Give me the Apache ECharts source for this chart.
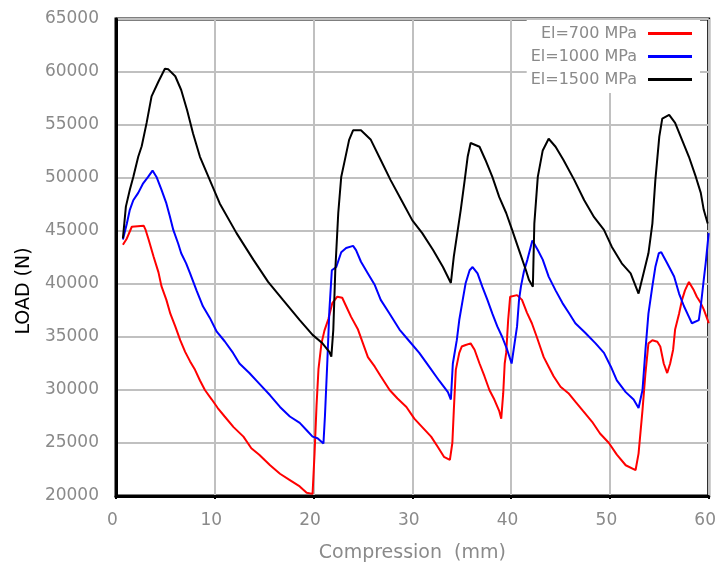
<!DOCTYPE html>
<html>
<head>
<meta charset="utf-8">
<title>LOAD vs Compression</title>
<script src="https://cdn.jsdelivr.net/npm/echarts@6/dist/echarts.min.js"></script>
<style>
  html, body { margin: 0; padding: 0; background: #fff; }
  #chart { width: 719px; height: 570px; }
</style>
</head>
<body>
<div id="chart"></div>
<script>
// Axis ticks
const xTicks = [0, 10, 20, 30, 40, 50, 60];
const yTicks = [20000, 25000, 30000, 35000, 40000, 45000, 50000, 55000, 60000, 65000];

// Series names
const seriesNames = ['El=700 MPa', 'El=1000 MPa', 'El=1500 MPa'];

// El = 700 MPa
const compression700 = [0.7, 1.1, 1.6, 2.2, 2.8, 3.0, 3.3, 3.8, 4.3, 4.6, 5.1, 5.5, 6.0, 6.5, 7.0, 7.5, 8.0, 8.5, 9.0, 9.7,
  10.3, 11.0, 11.9, 12.9, 13.7, 14.5, 15.6, 16.6, 17.6, 18.6, 19.3, 19.9, 20.1, 20.3, 20.5, 20.8, 21.1, 21.5, 21.9, 22.4,
  22.9, 23.3, 23.8, 24.5, 25.0, 25.5, 26.2, 26.8, 27.7, 28.5, 29.4, 30.2, 31.0, 31.9, 32.6, 33.2, 33.8, 34.05, 34.2, 34.4,
  34.75, 35.0, 35.4, 35.9, 36.3, 36.8, 37.3, 37.8, 38.3, 38.8, 39.0, 39.2, 39.35, 39.5, 39.7, 39.9, 40.6, 41.1, 41.6, 42.1,
  42.6, 43.3, 43.8, 44.3, 45.0, 45.8, 46.5, 47.3, 48.2, 49.0, 49.9, 50.7, 51.6, 52.6, 52.9, 53.3, 53.6, 53.9, 54.3, 54.8,
  55.1, 55.45, 55.8, 56.1, 56.4, 56.6, 57.0, 57.3, 57.6, 58.0, 58.5, 58.8, 59.2, 59.5, 59.9, 60.0];
const load700 = [43700, 44300, 45400, 45450, 45500, 45100, 44200, 42600, 41100, 39800, 38500, 37200, 36000, 34700, 33600, 32700, 31900, 30900, 30000, 29100,
  28300, 27500, 26500, 25600, 24500, 23900, 22900, 22100, 21500, 20900, 20300, 20200, 24000, 28500, 32000, 34400, 35600, 36700, 38200, 38800,
  38700, 37900, 36900, 35700, 34400, 33100, 32200, 31300, 30000, 29200, 28400, 27300, 26500, 25600, 24600, 23700, 23400, 25000, 28100, 31900,
  33500, 34100, 34250, 34400, 33800, 32500, 31300, 30000, 29100, 28000, 27300, 29700, 32500, 33500, 36600, 38800, 38950, 38500, 37300, 36300,
  35000, 33100, 32200, 31300, 30300, 29700, 28900, 28000, 27000, 25900, 25000, 23900, 22900, 22450, 24000, 28100, 31600, 34400, 34700, 34550,
  34100, 32500, 31600, 32500, 33800, 35700, 37200, 38500, 39400, 40200, 39400, 38800, 38200, 37600, 36600, 36300];

// El = 1000 MPa
const compression1000 = [0.7, 1.1, 1.4, 1.75, 2.25, 2.75, 3.25, 3.7, 4.1, 4.6, 5.1, 5.45, 5.8, 6.3, 6.6, 7.1, 7.5, 8.15, 8.8, 9.5,
  10.2, 11.0, 11.85, 12.5, 13.5, 14.5, 15.6, 16.6, 17.6, 18.6, 19.3, 19.9, 20.4, 21.0, 21.15, 21.4, 21.6, 21.85, 22.3, 22.8,
  23.3, 24.0, 24.3, 24.8, 25.5, 26.2, 26.8, 27.7, 28.7, 29.7, 30.7, 31.7, 32.7, 33.6, 33.9, 34.1, 34.5, 34.75, 35.1, 35.4,
  35.8, 36.1, 36.6, 37.1, 37.6, 38.1, 38.6, 39.1, 39.6, 40.05, 40.3, 40.6, 40.8, 41.0, 41.3, 41.65, 42.15, 42.7, 43.2, 43.8,
  44.5, 45.2, 45.9, 46.5, 47.5, 48.55, 49.4, 50.1, 50.7, 51.6, 52.4, 52.9, 53.3, 53.6, 53.9, 54.3, 54.6, 54.95, 55.2, 55.8,
  56.5, 57.0, 57.5, 58.0, 58.3, 59.0, 59.2, 59.5, 59.7, 60.0];
const load1000 = [44200, 45700, 47000, 47900, 48600, 49500, 50100, 50700, 50100, 48900, 47600, 46400, 45100, 43800, 42900, 41950, 41000, 39400, 37900, 36800,
  35500, 34600, 33500, 32500, 31600, 30600, 29500, 28400, 27500, 26900, 26200, 25600, 25450, 24950, 27500, 32800, 37500, 41300, 41600, 43000,
  43400, 43600, 43200, 42100, 41000, 39900, 38500, 37200, 35700, 34600, 33500, 32200, 30900, 29800, 29100, 32500, 34700, 36600, 38500, 40100,
  41300, 41600, 41000, 39700, 38500, 37200, 36000, 35000, 33800, 32500, 34100, 36000, 38500, 39800, 41200, 42300, 44100, 43200, 42300, 40700,
  39400, 38200, 37200, 36300, 35400, 34400, 33500, 32200, 30900, 29800, 29100, 28300, 30000, 33800, 37200, 39800, 41600, 42900, 43000, 41950,
  40700, 39100, 37900, 36900, 36300, 36600, 37900, 40400, 42000, 44800];

// El = 1500 MPa
const compression1500 = [0.7, 1.0, 1.4, 1.75, 2.25, 2.6, 3.1, 3.6, 4.3, 4.95, 5.3, 6.0, 6.6, 7.2, 7.8, 8.5, 9.5, 10.5, 12.2, 13.9,
  15.4, 16.9, 18.6, 19.9, 20.9, 21.6, 21.8, 22.0, 22.2, 22.5, 22.8, 23.1, 23.6, 24.0, 24.8, 25.8, 26.8, 27.8, 28.9, 30.0,
  31.0, 32.1, 33.1, 33.9, 34.2, 34.6, 34.9, 35.3, 35.6, 35.9, 36.8, 37.4, 38.1, 38.8, 39.5, 40.1, 40.8, 41.5, 41.8, 42.2,
  42.35, 42.7, 43.2, 43.8, 44.5, 45.3, 46.4, 47.4, 48.4, 49.4, 50.2, 51.2, 52.1, 52.9, 53.4, 53.9, 54.3, 54.6, 55.0, 55.3,
  56.0, 56.6, 57.3, 58.0, 58.7, 59.2, 59.5, 59.9];
const load1500 = [44300, 47300, 48900, 50100, 52000, 53000, 55200, 57700, 59100, 60300, 60250, 59600, 58300, 56400, 54200, 52000, 49800, 47600, 44800, 42300,
  40200, 38500, 36600, 35200, 34400, 33600, 33150, 35700, 41300, 46700, 50100, 51400, 53600, 54500, 54500, 53600, 51700, 49800, 47900, 46000,
  44800, 43200, 41600, 40100, 42600, 45100, 47000, 49800, 52000, 53300, 52950, 51700, 50100, 48200, 46700, 45100, 43200, 41300, 40400, 39750,
  45700, 50100, 52600, 53700, 52950, 51700, 49800, 47900, 46300, 45100, 43500, 41950, 41000, 39100, 41000, 42900, 45700, 49800, 53900, 55600,
  55950, 55200, 53600, 52000, 50100, 48600, 47000, 45700];

const lineColors = ['#ff0000', '#0000ff', '#000000'];

function pairs(xs, ys) {
  return xs.map((x, i) => [x, ys[i]]);
}

const seriesData = [
  pairs(compression700, load700),
  pairs(compression1000, load1000),
  pairs(compression1500, load1500)
];

const labelFont = 'DejaVu Sans';
const labelGrey = '#8a8a8a';

const chart = echarts.init(document.getElementById('chart'), null, { renderer: 'canvas' });

chart.setOption({
  animation: false,
  backgroundColor: '#ffffff',
  grid: {
    left: 116, right: 9, top: 19, bottom: 74,
    show: true,
    borderColor: '#000',
    borderWidth: 3,
    containLabel: false
  },
  legend: {
    data: seriesNames,
    orient: 'vertical',
    align: 'right',
    right: 19,
    top: 20,
    padding: [5, 8, 5, 4],
    backgroundColor: '#ffffff',
    icon: 'rect',
    itemWidth: 44,
    itemHeight: 3,
    itemGap: 6,
    textStyle: {
      fontFamily: labelFont,
      fontSize: 16,
      color: labelGrey,
      lineHeight: 17,
      padding: [0, 6, 0, 0]
    }
  },
  xAxis: {
    type: 'value',
    min: xTicks[0],
    max: xTicks[xTicks.length - 1],
    interval: 10,
    name: 'Compression  (mm)',
    nameLocation: 'middle',
    nameGap: 48,
    nameTextStyle: { fontFamily: labelFont, fontSize: 19, color: labelGrey },
    axisLine: { lineStyle: { color: '#000', width: 3 } },
    axisTick: { show: true, length: 3, lineStyle: { color: '#000', width: 2 } },
    axisLabel: {
      fontFamily: labelFont, fontSize: 17, color: labelGrey, margin: 16,
      padding: [0, 7, 0, 0],
      formatter: (v) => String(v)
    },
    splitLine: { show: true, lineStyle: { color: '#c0c0c0', width: 2 } }
  },
  yAxis: {
    type: 'value',
    min: yTicks[0],
    max: yTicks[yTicks.length - 1],
    interval: 5000,
    axisLine: { show: true, lineStyle: { color: '#000', width: 3 } },
    axisTick: { show: false },
    axisLabel: {
      fontFamily: labelFont, fontSize: 17, color: labelGrey, margin: 17,
      formatter: (v) => String(v)
    },
    splitLine: { show: true, lineStyle: { color: '#c0c0c0', width: 2 } }
  },
  graphic: [{
    type: 'text',
    x: 24,
    y: 291,
    rotation: Math.PI / 2,
    style: {
      text: 'LOAD (N)',
      fontFamily: labelFont,
      fontSize: 19,
      fill: '#000',
      align: 'center',
      verticalAlign: 'middle'
    }
  }],
  series: seriesNames.map((name, i) => ({
    name: name,
    type: 'line',
    data: seriesData[i],
    showSymbol: false,
    symbol: 'none',
    smooth: false,
    lineStyle: { color: lineColors[i], width: 2 },
    itemStyle: { color: lineColors[i] },
    z: 3 + i
  }))
});
</script>
</body>
</html>
